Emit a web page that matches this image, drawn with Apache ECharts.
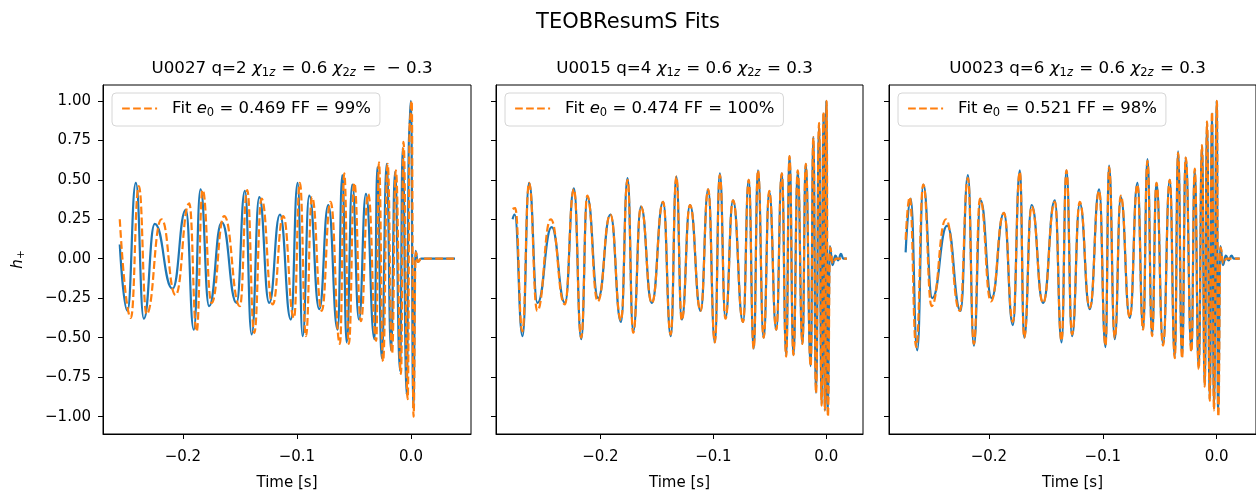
<!DOCTYPE html>
<html>
<head>
<meta charset="utf-8">
<script src="https://cdn.jsdelivr.net/npm/echarts@6.0.0/dist/echarts.min.js"></script>
<style>html,body{margin:0;padding:0;background:#fff}#main{width:1256px;height:496px}</style>
</head>
<body>
<div id="main"></div>
<script>
var myChart = echarts.init(document.getElementById('main'));

// waveform turning points (time [s], h+)
var nr1T = [-0.2553,-0.2486,-0.2412,-0.2342,-0.2246,-0.2090,-0.1974,-0.1904,-0.1845,-0.1770,-0.1659,-0.1529,-0.1456,-0.1397,-0.1330,-0.1243,-0.1149,-0.1053,-0.0994,-0.0950,-0.0892,-0.0804,-0.0725,-0.0643,-0.0602,-0.0564,-0.0515,-0.0456,-0.0395,-0.0320,-0.0295,-0.0257,-0.0213,-0.0175,-0.0140,-0.0096,-0.0073,-0.0038,-0.0015,0.0000,0.0020,0.0040,0.0060,0.0090,0.0386];
var nr1H = [0.09,-0.33,0.48,-0.38,0.22,-0.19,0.31,-0.45,0.44,-0.30,0.23,-0.28,0.43,-0.48,0.39,-0.28,0.28,-0.385,0.48,-0.49,0.40,-0.32,0.34,-0.45,0.53,-0.53,0.47,-0.385,0.41,-0.51,0.58,-0.63,0.60,-0.58,0.55,-0.71,0.70,-0.86,0.85,1.00,-0.95,0.05,-0.02,0.0,0.0];
var fit1T = [-0.2553,-0.2456,-0.2386,-0.2318,-0.2187,-0.2064,-0.1944,-0.1879,-0.1827,-0.1748,-0.1638,-0.1500,-0.1436,-0.1374,-0.1310,-0.1213,-0.1120,-0.1026,-0.0974,-0.0921,-0.0868,-0.0783,-0.0705,-0.0623,-0.0585,-0.0545,-0.0497,-0.0439,-0.0375,-0.0305,-0.0281,-0.0245,-0.0205,-0.0166,-0.0133,-0.0088,-0.0066,-0.0029,-0.0010,0.0006,0.0022,0.0042,0.0062,0.0090,0.0386];
var fit1H = [0.25,-0.375,0.46,-0.35,0.25,-0.23,0.35,-0.46,0.435,-0.28,0.27,-0.30,0.435,-0.47,0.38,-0.29,0.27,-0.375,0.48,-0.49,0.39,-0.33,0.36,-0.54,0.54,-0.54,0.48,-0.395,0.41,-0.52,0.61,-0.65,0.60,-0.60,0.56,-0.73,0.74,-0.89,0.88,1.00,-1.00,0.04,-0.02,0.0,0.0];

var nr2T = [-0.2778,-0.2760,-0.2690,-0.2632,-0.2558,-0.2432,-0.2314,-0.2235,-0.2170,-0.2117,-0.2020,-0.1912,-0.1818,-0.1760,-0.1710,-0.1641,-0.1545,-0.1445,-0.1377,-0.1328,-0.1280,-0.1207,-0.1113,-0.1046,-0.0987,-0.0943,-0.0893,-0.0826,-0.0737,-0.0687,-0.0643,-0.0605,-0.0555,-0.0505,-0.0443,-0.0394,-0.0355,-0.0326,-0.0291,-0.0253,-0.0211,-0.0182,-0.0138,-0.0115,-0.0091,-0.0064,-0.0041,-0.0025,-0.0012,0.0000,0.0012,0.0032,0.0055,0.0080,0.0105,0.0130,0.0150,0.0182];
var nr2H = [0.25,0.28,-0.49,0.48,-0.28,0.20,-0.28,0.445,-0.51,0.39,-0.25,0.28,-0.40,0.51,-0.46,0.33,-0.28,0.36,-0.49,0.52,-0.385,0.34,-0.33,0.44,-0.53,0.54,-0.375,0.37,-0.40,0.50,-0.57,0.56,-0.50,0.425,-0.45,0.54,-0.61,0.65,-0.61,0.55,-0.54,0.60,-0.68,0.77,-0.85,0.85,-0.92,0.92,-0.96,1.00,-0.97,0.08,-0.04,0.02,-0.01,0.03,0.0,0.0];
var fit2T = [-0.2778,-0.2755,-0.2692,-0.2632,-0.2560,-0.2440,-0.2316,-0.2235,-0.2170,-0.2117,-0.2024,-0.1912,-0.1818,-0.1760,-0.1710,-0.1641,-0.1545,-0.1445,-0.1378,-0.1328,-0.1280,-0.1207,-0.1113,-0.1046,-0.0987,-0.0943,-0.0893,-0.0826,-0.0737,-0.0687,-0.0643,-0.0605,-0.0555,-0.0505,-0.0443,-0.0394,-0.0355,-0.0326,-0.0291,-0.0253,-0.0211,-0.0182,-0.0138,-0.0115,-0.0091,-0.0064,-0.0041,-0.0025,-0.0012,0.0003,0.0014,0.0034,0.0058,0.0085,0.0182];
var fit2H = [0.315,0.32,-0.46,0.48,-0.33,0.25,-0.29,0.44,-0.50,0.40,-0.27,0.28,-0.39,0.50,-0.47,0.33,-0.28,0.36,-0.48,0.52,-0.39,0.34,-0.33,0.44,-0.53,0.53,-0.38,0.37,-0.40,0.50,-0.57,0.56,-0.50,0.43,-0.45,0.54,-0.62,0.65,-0.61,0.56,-0.54,0.60,-0.68,0.77,-0.85,0.86,-0.93,0.93,-0.96,1.00,-1.00,0.07,-0.03,0.0,0.0];

var nr3T = [-0.2731,-0.2687,-0.2629,-0.2576,-0.2497,-0.2366,-0.2249,-0.2184,-0.2132,-0.2073,-0.1976,-0.1868,-0.1790,-0.1728,-0.1690,-0.1625,-0.1524,-0.1421,-0.1362,-0.1319,-0.1270,-0.1202,-0.1114,-0.1032,-0.0976,-0.0945,-0.0895,-0.0842,-0.0763,-0.0696,-0.0646,-0.0608,-0.0567,-0.0529,-0.0471,-0.0412,-0.0368,-0.0339,-0.0304,-0.0272,-0.0222,-0.0193,-0.0158,-0.0129,-0.0105,-0.0085,-0.0061,-0.0041,-0.0024,0.0000,0.0012,0.0032,0.0055,0.0080,0.0105,0.0130,0.0150,0.0202];
var nr3H = [0.04,0.38,-0.58,0.47,-0.25,0.21,-0.33,0.53,-0.55,0.37,-0.25,0.29,-0.42,0.56,-0.50,0.34,-0.28,0.37,-0.53,0.56,-0.49,0.35,-0.32,0.44,-0.56,0.59,-0.51,0.39,-0.375,0.48,-0.44,0.63,-0.48,0.48,-0.54,0.50,-0.62,0.68,-0.62,0.64,-0.58,0.56,-0.69,0.715,-0.80,0.86,-0.89,0.92,-0.95,1.00,-0.97,0.08,-0.04,0.02,-0.01,0.02,0.0,0.0];
var fit3T = [-0.2731,-0.2695,-0.2638,-0.2576,-0.2503,-0.2377,-0.2255,-0.2184,-0.2132,-0.2078,-0.1982,-0.1868,-0.1790,-0.1728,-0.1690,-0.1625,-0.1524,-0.1421,-0.1362,-0.1319,-0.1270,-0.1202,-0.1114,-0.1032,-0.0976,-0.0945,-0.0895,-0.0842,-0.0763,-0.0696,-0.0646,-0.0608,-0.0567,-0.0529,-0.0471,-0.0412,-0.0368,-0.0339,-0.0304,-0.0272,-0.0222,-0.0193,-0.0158,-0.0129,-0.0105,-0.0085,-0.0061,-0.0041,-0.0024,0.0002,0.0014,0.0034,0.0058,0.0085,0.0202];
var fit3H = [0.12,0.39,-0.56,0.47,-0.30,0.25,-0.33,0.51,-0.54,0.38,-0.27,0.29,-0.40,0.55,-0.50,0.33,-0.28,0.36,-0.52,0.56,-0.48,0.36,-0.31,0.43,-0.55,0.58,-0.50,0.40,-0.37,0.47,-0.45,0.62,-0.49,0.48,-0.55,0.50,-0.63,0.67,-0.63,0.64,-0.59,0.57,-0.70,0.72,-0.81,0.87,-0.90,0.93,-0.96,1.00,-1.00,0.07,-0.03,0.0,0.0];

var panelTitles = [
    '{r|U0027 q=2 }{i|χ}{s|1}{si|z}{r| = 0.6 }{i|χ}{s|2}{si|z}{r| =  − 0.3}',
    '{r|U0015 q=4 }{i|χ}{s|1}{si|z}{r| = 0.6 }{i|χ}{s|2}{si|z}{r| = 0.3}',
    '{r|U0023 q=6 }{i|χ}{s|1}{si|z}{r| = 0.6 }{i|χ}{s|2}{si|z}{r| = 0.3}'
];
var fitNames = ['Fit e0 = 0.469 FF = 99%', 'Fit e0 = 0.474 FF = 100%', 'Fit e0 = 0.521 FF = 98%'];
var fitLabels = [
    '{p|Fit }{i|e}{s|0}{r| = 0.469 FF = 99%}',
    '{p|Fit }{i|e}{s|0}{r| = 0.474 FF = 100%}',
    '{p|Fit }{i|e}{s|0}{r| = 0.521 FF = 98%}'
];
var xTicks = [-0.2, -0.1, 0.0];
var yTicks = [-1.0, -0.75, -0.5, -0.25, 0.0, 0.25, 0.5, 0.75, 1.0];
var xRanges = [[-0.270, 0.0526], [-0.2925, 0.0325], [-0.2877, 0.0345]];

var nrT = [nr1T, nr2T, nr3T], nrH = [nr1H, nr2H, nr3H];
var fitT = [fit1T, fit2T, fit3T], fitH = [fit1H, fit2H, fit3H];
var gridLefts = [103, 496, 889];
var gridWidths = [368, 367, 367];

var FONT = 'DejaVu Sans';
function pairs(t, h) {
    var out = [];
    for (var k = 0; k < t.length; k++) out.push([t[k], h[k]]);
    return out;
}
function minus(s) { return s.replace('-', '\u2212'); }

var titleRich = {
    r: {fontFamily: FONT, fontSize: 16.7, fontWeight: 'normal', color: '#000'},
    i: {fontFamily: FONT, fontSize: 16.7, fontWeight: 'normal', fontStyle: 'italic', color: '#000'},
    s: {fontFamily: FONT, fontSize: 11.5, fontWeight: 'normal', color: '#000', padding: [9, 0, 0, 0]},
    si: {fontFamily: FONT, fontSize: 11.5, fontWeight: 'normal', fontStyle: 'italic', color: '#000', padding: [9, 1, 0, 0]}
};
var legendRich = {
    p: {fontFamily: FONT, fontSize: 16.5, color: '#000', padding: [0, 0, 0, 10]},
    r: {fontFamily: FONT, fontSize: 16.5, color: '#000'},
    i: {fontFamily: FONT, fontSize: 16.5, fontStyle: 'italic', color: '#000'},
    s: {fontFamily: FONT, fontSize: 11.5, color: '#000', padding: [9, 0, 0, 0]}
};

var option = {
    backgroundColor: '#fff',
    animation: false,
    title: [{
        text: 'TEOBResumS Fits',
        left: 'center',
        top: 7,
        textStyle: {fontFamily: FONT, fontSize: 21, fontWeight: 'normal', color: '#000'}
    }],
    legend: [],
    grid: [],
    xAxis: [],
    yAxis: [],
    series: []
};

for (var i = 0; i < 3; i++) {
    option.title.push({
        text: panelTitles[i],
        left: gridLefts[i] + gridWidths[i] / 2,
        textAlign: 'center',
        top: 53,
        textStyle: {fontWeight: 'normal', rich: titleRich}
    });
    option.grid.push({
        left: gridLefts[i], top: 85, width: gridWidths[i], height: 355,
        show: true, borderColor: '#000', borderWidth: 1, backgroundColor: '#fff'
    });
    option.xAxis.push({
        type: 'value',
        gridIndex: i,
        min: xRanges[i][0],
        max: xRanges[i][1],
        name: 'Time [s]',
        nameLocation: 'middle',
        nameGap: 42,
        nameTextStyle: {fontFamily: FONT, fontSize: 15, color: '#000'},
        axisLine: {show: true, onZero: false, lineStyle: {color: '#000', width: 1}},
        axisTick: {show: true, length: 5, lineStyle: {color: '#000'}, customValues: xTicks},
        axisLabel: {
            fontFamily: FONT, fontSize: 15, color: '#000', margin: 16,
            customValues: xTicks,
            formatter: function (v) { return minus(v.toFixed(1)); }
        },
        splitLine: {show: false}
    });
    option.yAxis.push({
        type: 'value',
        gridIndex: i,
        min: -1.11,
        max: 1.1,
        name: i === 0 ? '{i|h}{s|+}' : '',
        nameLocation: 'middle',
        nameGap: 76,
        nameTextStyle: {
            rich: {
                i: {fontFamily: FONT, fontSize: 15, fontStyle: 'italic', color: '#000'},
                s: {fontFamily: FONT, fontSize: 11, color: '#000', padding: [7, 0, 0, 0]}
            }
        },
        axisLine: {show: true, onZero: false, lineStyle: {color: '#000', width: 1}},
        axisTick: {show: true, length: 5, lineStyle: {color: '#000'}, customValues: yTicks},
        axisLabel: {
            show: i === 0,
            fontFamily: FONT, fontSize: 15, color: '#000', margin: 12,
            customValues: yTicks,
            formatter: function (v) { return minus(v.toFixed(2)); }
        },
        splitLine: {show: false}
    });
    option.series.push({
        name: 'NR ' + i,
        type: 'line',
        xAxisIndex: i,
        yAxisIndex: i,
        data: pairs(nrT[i], nrH[i]),
        showSymbol: false,
        symbol: 'none',
        smooth: 0.5,
        smoothMonotone: 'x',
        lineStyle: {color: '#1f77b4', width: 2.2},
        itemStyle: {color: '#1f77b4'},
        z: 2
    });
    option.series.push({
        name: fitNames[i],
        type: 'line',
        xAxisIndex: i,
        yAxisIndex: i,
        data: pairs(fitT[i], fitH[i]),
        showSymbol: false,
        symbol: 'none',
        smooth: 0.5,
        smoothMonotone: 'x',
        lineStyle: {color: '#ff7f0e', width: 2.2, type: [7.7, 3.3]},
        itemStyle: {color: '#ff7f0e'},
        z: 3
    });
    option.legend.push({
        data: [fitNames[i]],
        left: gridLefts[i] + 9,
        top: 93,
        orient: 'vertical',
        itemWidth: 35,
        itemHeight: 14,
        padding: [7, 9, 7, 9],
        backgroundColor: 'rgba(255,255,255,0.8)',
        borderColor: '#d6d6d6',
        borderWidth: 1,
        borderRadius: 4,
        itemStyle: {opacity: 0},
        lineStyle: {width: 2.2, type: [7.7, 3.3]},
        formatter: (function (lbl) { return function () { return lbl; }; })(fitLabels[i]),
        textStyle: {fontFamily: FONT, fontSize: 16.5, color: '#000', rich: legendRich}
    });
}

myChart.setOption(option);
</script>
</body>
</html>
